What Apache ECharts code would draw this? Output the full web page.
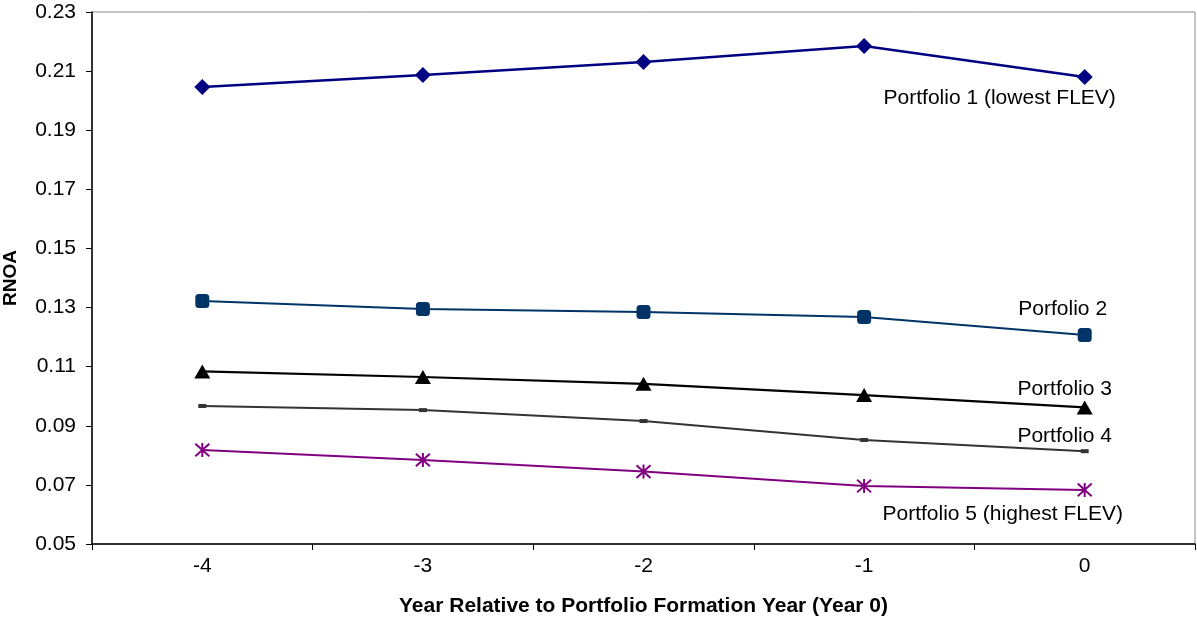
<!DOCTYPE html>
<html>
<head>
<meta charset="utf-8">
<script src="https://cdn.jsdelivr.net/npm/echarts@6/dist/echarts.min.js"></script>
<style>
  html, body { margin: 0; padding: 0; background: #fff; }
  #chart { width: 1197px; height: 624px; }
</style>
</head>
<body>
<div id="chart"></div>
<script>
// Years relative to the portfolio formation year
const years = ['-4', '-3', '-2', '-1', '0'];

// Mean RNOA per FLEV portfolio
const portfolio1 = [0.2046, 0.2087, 0.2131, 0.2185, 0.2080];
const portfolio2 = [0.1322, 0.1295, 0.1285, 0.1268, 0.1207];
const portfolio3 = [0.1084, 0.1065, 0.1042, 0.1004, 0.0962];
const portfolio4 = [0.0967, 0.0953, 0.0916, 0.0852, 0.0814];
const portfolio5 = [0.0818, 0.0784, 0.0745, 0.0696, 0.0683];

const seriesNames = ['Portfolio 1 (lowest FLEV)', 'Porfolio 2', 'Portfolio 3', 'Portfolio 4', 'Portfolio 5 (highest FLEV)'];

// Y-axis ticks: 0.05 to 0.23 in steps of 0.02
const yMin = 0.05, yMax = 0.23, yStep = 0.02;

const FONT = '"Liberation Sans", Arial, sans-serif';

// Asterisk marker: an X crossed by a vertical stroke
const asterisk = 'path://M10,0L10,20M1,1L19,19M19,1L1,19';

function lineSeries(name, data, color, symbol, symbolSize, width, labelOffset) {
  return {
    name: name,
    type: 'line',
    data: data.map((v, i) => {
      const item = { value: v };
      if (i === data.length - 1) {
        item.label = {
          show: true,
          position: 'inside',
          offset: labelOffset,
          formatter: name,
          color: '#000',
          fontFamily: FONT,
          fontSize: 21,
          align: 'center',
          verticalAlign: 'middle'
        };
      }
      return item;
    }),
    symbol: symbol,
    symbolSize: symbolSize,
    showAllSymbol: true,
    lineStyle: { color: color, width: width },
    itemStyle: { color: color, borderColor: color, borderWidth: symbol === asterisk ? 2 : 0 },
    emphasis: { disabled: true },
    animation: false,
    z: 3
  };
}

const chart = echarts.init(document.getElementById('chart'), null, { renderer: 'canvas' });

chart.setOption({
  backgroundColor: '#ffffff',
  animation: false,
  grid: {
    left: 92, right: 2, top: 12, bottom: 80,
    containLabel: false,
    outerBoundsMode: 'none',
    show: true, borderColor: '#8a8a8a', borderWidth: 1, backgroundColor: 'transparent'
  },
  xAxis: {
    type: 'category',
    data: years,
    boundaryGap: true,
    name: 'Year Relative to Portfolio Formation Year (Year 0)',
    nameLocation: 'middle',
    nameGap: 52,
    nameTextStyle: { fontFamily: FONT, fontSize: 21, fontWeight: 'bold', color: '#000' },
    axisLine: { lineStyle: { color: '#000', width: 1.5 } },
    axisTick: { show: true, inside: false, length: 6, alignWithLabel: false, lineStyle: { color: '#000' } },
    axisLabel: { fontFamily: FONT, fontSize: 21, color: '#000', margin: 12 },
    splitLine: { show: false }
  },
  yAxis: {
    type: 'value',
    min: yMin,
    max: yMax,
    interval: yStep,
    name: 'RNOA',
    nameLocation: 'middle',
    nameRotate: 90,
    nameGap: 72,
    nameTextStyle: { fontFamily: FONT, fontSize: 19, fontWeight: 'bold', color: '#000' },
    axisLine: { show: true, lineStyle: { color: '#000', width: 1.5 } },
    axisTick: { show: true, inside: false, length: 6, lineStyle: { color: '#000' } },
    axisLabel: {
      fontFamily: FONT, fontSize: 21, color: '#000', margin: 16,
      formatter: v => v.toFixed(2)
    },
    splitLine: { show: false }
  },
  series: [
    lineSeries(seriesNames[0], portfolio1, '#000080', 'diamond', [16, 16], 2.5, [-85, 21]),
    lineSeries(seriesNames[1], portfolio2, '#003366', 'roundRect', [14, 14], 2, [-22, -26]),
    lineSeries(seriesNames[2], portfolio3, '#000000', 'triangle', [16, 14], 2.2, [-20, -18]),
    lineSeries(seriesNames[3], portfolio4, '#333333', 'rect', [8, 4], 2, [-20, -15]),
    lineSeries(seriesNames[4], portfolio5, '#800080', asterisk, [14, 14], 2, [-82, 24])
  ]
});
</script>
</body>
</html>
